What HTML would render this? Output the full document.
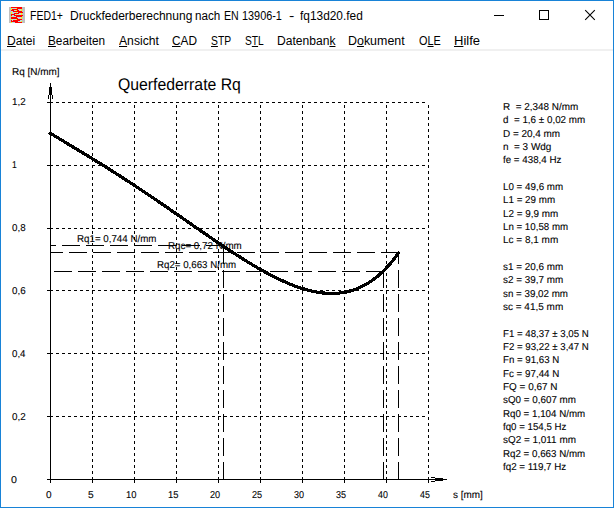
<!DOCTYPE html>
<html><head><meta charset="utf-8"><title>FED1+</title>
<style>
html,body{margin:0;padding:0;background:#fff;overflow:hidden;}
body{width:614px;height:508px;position:relative;overflow:hidden;font-family:"Liberation Sans",sans-serif;color:#000;}
#frame{position:absolute;left:0;top:0;width:612px;height:506px;border:1px solid #1883d7;}
.t{position:absolute;font-size:10px;line-height:11px;white-space:pre;text-rendering:geometricPrecision;-webkit-text-stroke:0.1px #000;}
.tt{position:absolute;top:8px;font-size:12px;line-height:16px;white-space:pre;transform-origin:0 0;}
.m{position:absolute;top:33px;font-size:12px;line-height:16px;white-space:pre;transform-origin:0 0;}
.m u{text-decoration:underline;text-underline-offset:1px;text-decoration-thickness:1px;}
#sep{position:absolute;left:1px;top:49px;width:612px;height:2px;background:#f0f0f0;}
#ttl{position:absolute;left:117.7px;top:76px;font-size:16px;line-height:18px;white-space:pre;text-rendering:geometricPrecision;transform-origin:0 2px;transform:scale(0.987,1.05);}
svg{position:absolute;left:0;top:0;}
</style></head><body>
<div id="frame"></div>
<svg id="icon" width="16" height="16" viewBox="0 0 16 16" style="left:9px;top:7px" shape-rendering="crispEdges">
<rect width="16" height="16" fill="#c0c0c0"/><rect x="2" y="0" width="11" height="1" fill="#ff0000"/><rect x="2" y="1" width="1" height="1" fill="#ffff00"/><rect x="3" y="1" width="4" height="1" fill="#bcd6de"/><rect x="7" y="1" width="1" height="1" fill="#ffff00"/><rect x="8" y="1" width="5" height="1" fill="#ff0000"/><rect x="2" y="2" width="1" height="1" fill="#ffff00"/><rect x="3" y="2" width="6" height="1" fill="#ff0000"/><rect x="9" y="2" width="3" height="1" fill="#bcd6de"/><rect x="12" y="2" width="1" height="1" fill="#ffff00"/><rect x="2" y="3" width="3" height="1" fill="#ff0000"/><rect x="5" y="3" width="2" height="1" fill="#bcd6de"/><rect x="7" y="3" width="1" height="1" fill="#ffff00"/><rect x="8" y="3" width="2" height="1" fill="#ff0000"/><rect x="10" y="3" width="2" height="1" fill="#bcd6de"/><rect x="12" y="3" width="1" height="1" fill="#ffff00"/><rect x="2" y="4" width="2" height="1" fill="#bcd6de"/><rect x="4" y="4" width="9" height="1" fill="#ff0000"/><rect x="2" y="5" width="1" height="1" fill="#ffff00"/><rect x="3" y="5" width="4" height="1" fill="#bcd6de"/><rect x="7" y="5" width="1" height="1" fill="#ffff00"/><rect x="8" y="5" width="1" height="1" fill="#bcd6de"/><rect x="9" y="5" width="5" height="1" fill="#ff0000"/><rect x="2" y="6" width="1" height="1" fill="#ffff00"/><rect x="3" y="6" width="2" height="1" fill="#bcd6de"/><rect x="5" y="6" width="5" height="1" fill="#ff0000"/><rect x="10" y="6" width="2" height="1" fill="#bcd6de"/><rect x="12" y="6" width="1" height="1" fill="#ffff00"/><rect x="2" y="7" width="4" height="1" fill="#ff0000"/><rect x="6" y="7" width="1" height="1" fill="#bcd6de"/><rect x="7" y="7" width="1" height="1" fill="#ffff00"/><rect x="8" y="7" width="4" height="1" fill="#bcd6de"/><rect x="12" y="7" width="1" height="1" fill="#ffff00"/><rect x="2" y="8" width="1" height="1" fill="#ff0000"/><rect x="3" y="8" width="2" height="1" fill="#bcd6de"/><rect x="5" y="8" width="9" height="1" fill="#ff0000"/><rect x="2" y="9" width="1" height="1" fill="#ffff00"/><rect x="3" y="9" width="4" height="1" fill="#bcd6de"/><rect x="7" y="9" width="6" height="1" fill="#ff0000"/><rect x="2" y="10" width="6" height="1" fill="#ff0000"/><rect x="8" y="10" width="4" height="1" fill="#bcd6de"/><rect x="12" y="10" width="1" height="1" fill="#ffff00"/><rect x="2" y="11" width="7" height="1" fill="#ff0000"/><rect x="9" y="11" width="3" height="1" fill="#bcd6de"/><rect x="12" y="11" width="1" height="1" fill="#ffff00"/><rect x="2" y="12" width="1" height="1" fill="#ffff00"/><rect x="3" y="12" width="4" height="1" fill="#bcd6de"/><rect x="7" y="12" width="1" height="1" fill="#ffff00"/><rect x="8" y="12" width="5" height="1" fill="#ff0000"/><rect x="2" y="13" width="1" height="1" fill="#ff0000"/><rect x="3" y="13" width="1" height="1" fill="#bcd6de"/><rect x="4" y="13" width="7" height="1" fill="#ff0000"/><rect x="11" y="13" width="2" height="1" fill="#bcd6de"/><rect x="2" y="14" width="7" height="1" fill="#ff0000"/><rect x="9" y="14" width="3" height="1" fill="#bcd6de"/><rect x="12" y="14" width="1" height="1" fill="#ffff00"/><rect x="2" y="15" width="1" height="1" fill="#ffff00"/><rect x="3" y="15" width="3" height="1" fill="#bcd6de"/><rect x="6" y="15" width="7" height="1" fill="#ff0000"/>
</svg>
<div class="tt" style="left:30.02px;transform:scaleX(0.8753)">FED1+</div>
<div class="tt" style="left:69.80px;transform:scaleX(1.0025)">Druckfederberechnung</div>
<div class="tt" style="left:195.42px;transform:scaleX(0.9713)">nach</div>
<div class="tt" style="left:224.22px;transform:scaleX(0.8844)">EN</div>
<div class="tt" style="left:242.48px;transform:scaleX(0.9061)">13906-1</div>
<div class="tt" style="left:288.73px;transform:scaleX(1.3333)">-</div>
<div class="tt" style="left:300.00px;transform:scaleX(0.9904)">fq13d20.fed</div>
<svg width="614" height="32" shape-rendering="crispEdges">
<rect x="494" y="15" width="10" height="1" fill="#000"/>
<rect x="539.5" y="10.5" width="9" height="9" fill="none" stroke="#000"/>
<g shape-rendering="geometricPrecision"><path d="M585.2 10.2 L594.8 19.8 M594.8 10.2 L585.2 19.8" stroke="#000" stroke-width="1.1" fill="none"/></g>
</svg>
<div class="m" style="left:7.30px;transform:scaleX(1.0038)"><u>D</u>atei</div>
<div class="m" style="left:48.42px;transform:scaleX(0.9822)"><u>B</u>earbeiten</div>
<div class="m" style="left:119.20px;transform:scaleX(1.0128)"><u>A</u>nsicht</div>
<div class="m" style="left:172.41px;transform:scaleX(0.9876)"><u>C</u>AD</div>
<div class="m" style="left:210.98px;transform:scaleX(0.8597)"><u>S</u>TP</div>
<div class="m" style="left:245.09px;transform:scaleX(0.8524)">S<u>T</u>L</div>
<div class="m" style="left:277.49px;transform:scaleX(1.0070)">Datenban<u>k</u></div>
<div class="m" style="left:348.46px;transform:scaleX(1.0354)">D<u>o</u>kument</div>
<div class="m" style="left:418.86px;transform:scaleX(0.9083)">O<u>L</u>E</div>
<div class="m" style="left:453.52px;transform:scaleX(1.0844)"><u>H</u>ilfe</div>
<div id="sep"></div>
<div class="t" style="left:11.90px;top:67px;transform-origin:0 0;transform:scaleX(0.9957)">Rq [N/mm]</div>
<div id="ttl">Querfederrate Rq</div>
<svg width="614" height="508" shape-rendering="crispEdges" fill="none" stroke="#000" stroke-width="1">
<line x1="50.5" y1="83" x2="50.5" y2="483"/>
<line x1="47" y1="479.5" x2="447" y2="479.5"/>
<line x1="49.5" y1="87" x2="49.5" y2="95"/>
<line x1="51.5" y1="87" x2="51.5" y2="95"/>
<line x1="48.5" y1="95" x2="48.5" y2="99"/>
<line x1="52.5" y1="95" x2="52.5" y2="99"/>
<line x1="435" y1="478.5" x2="443" y2="478.5"/>
<line x1="435" y1="480.5" x2="443" y2="480.5"/>
<line x1="431" y1="477.5" x2="435" y2="477.5"/>
<line x1="431" y1="481.5" x2="435" y2="481.5"/>
<line x1="47" y1="102.5" x2="50" y2="102.5"/>
<line x1="50" y1="102.5" x2="428" y2="102.5" stroke-dasharray="3 3" stroke-dashoffset="0"/>
<line x1="47" y1="165.5" x2="50" y2="165.5"/>
<line x1="50" y1="165.5" x2="428" y2="165.5" stroke-dasharray="3 3" stroke-dashoffset="0"/>
<line x1="47" y1="228.5" x2="50" y2="228.5"/>
<line x1="50" y1="228.5" x2="428" y2="228.5" stroke-dasharray="3 3" stroke-dashoffset="0"/>
<line x1="47" y1="290.5" x2="50" y2="290.5"/>
<line x1="50" y1="290.5" x2="428" y2="290.5" stroke-dasharray="3 3" stroke-dashoffset="0"/>
<line x1="47" y1="353.5" x2="50" y2="353.5"/>
<line x1="50" y1="353.5" x2="428" y2="353.5" stroke-dasharray="3 3" stroke-dashoffset="0"/>
<line x1="47" y1="416.5" x2="50" y2="416.5"/>
<line x1="50" y1="416.5" x2="428" y2="416.5" stroke-dasharray="3 3" stroke-dashoffset="0"/>
<line x1="92.5" y1="480" x2="92.5" y2="483"/>
<line x1="92.5" y1="480" x2="92.5" y2="103" stroke-dasharray="3 3"/>
<line x1="134.5" y1="480" x2="134.5" y2="483"/>
<line x1="134.5" y1="480" x2="134.5" y2="103" stroke-dasharray="3 3"/>
<line x1="176.5" y1="480" x2="176.5" y2="483"/>
<line x1="176.5" y1="480" x2="176.5" y2="103" stroke-dasharray="3 3"/>
<line x1="218.5" y1="480" x2="218.5" y2="483"/>
<line x1="218.5" y1="480" x2="218.5" y2="103" stroke-dasharray="3 3"/>
<line x1="260.5" y1="480" x2="260.5" y2="483"/>
<line x1="260.5" y1="480" x2="260.5" y2="103" stroke-dasharray="3 3"/>
<line x1="302.5" y1="480" x2="302.5" y2="483"/>
<line x1="302.5" y1="480" x2="302.5" y2="103" stroke-dasharray="3 3"/>
<line x1="344.5" y1="480" x2="344.5" y2="483"/>
<line x1="344.5" y1="480" x2="344.5" y2="103" stroke-dasharray="3 3"/>
<line x1="386.5" y1="480" x2="386.5" y2="483"/>
<line x1="386.5" y1="480" x2="386.5" y2="103" stroke-dasharray="3 3"/>
<line x1="428.5" y1="480" x2="428.5" y2="483"/>
<line x1="428.5" y1="480" x2="428.5" y2="103" stroke-dasharray="3 3"/>
<line x1="224" y1="245.5" x2="51" y2="245.5" stroke-dasharray="18 6"/>
<line x1="399" y1="252.5" x2="51" y2="252.5" stroke-dasharray="18 6"/>
<line x1="384" y1="271.5" x2="51" y2="271.5" stroke-dasharray="18 6"/>
<line x1="223.5" y1="480" x2="223.5" y2="246" stroke-dasharray="18 6"/>
<line x1="398.5" y1="480" x2="398.5" y2="253" stroke-dasharray="18 6"/>
<line x1="383.5" y1="480" x2="383.5" y2="272" stroke-dasharray="18 6"/>
<path d="M50.0 133.1 L53.0 134.9 L56.0 136.7 L59.0 138.5 L62.0 140.3 L65.0 142.1 L68.0 144.0 L71.0 145.8 L74.0 147.6 L77.0 149.4 L80.0 151.2 L83.0 153.0 L86.0 154.8 L89.0 156.7 L92.0 158.5 L95.0 160.3 L98.0 162.2 L101.0 164.0 L104.0 165.9 L107.0 167.8 L110.0 169.7 L113.0 171.6 L116.0 173.5 L119.0 175.4 L122.0 177.3 L125.0 179.3 L128.0 181.2 L131.0 183.2 L134.0 185.2 L137.0 187.1 L140.0 189.1 L143.0 191.1 L146.0 193.1 L149.0 195.2 L152.0 197.2 L155.0 199.2 L158.0 201.3 L161.0 203.3 L164.0 205.4 L167.0 207.4 L170.0 209.5 L173.0 211.6 L176.0 213.6 L179.0 215.7 L182.0 217.8 L185.0 219.9 L188.0 222.0 L191.0 224.0 L194.0 226.1 L197.0 228.2 L200.0 230.3 L203.0 232.3 L206.0 234.4 L209.0 236.5 L212.0 238.5 L215.0 240.6 L218.0 242.6 L221.0 244.6 L224.0 246.6 L227.0 248.6 L230.0 250.6 L233.0 252.6 L236.0 254.5 L239.0 256.4 L242.0 258.3 L245.0 260.2 L248.0 262.1 L251.0 263.9 L254.0 265.7 L257.0 267.5 L260.0 269.2 L263.0 270.9 L266.0 272.5 L269.0 274.1 L272.0 275.7 L275.0 277.2 L278.0 278.7 L281.0 280.1 L284.0 281.5 L287.0 282.8 L290.0 284.1 L293.0 285.3 L296.0 286.4 L299.0 287.5 L302.0 288.4 L305.0 289.3 L308.0 290.2 L311.0 290.9 L314.0 291.6 L317.0 292.1 L320.0 292.6 L323.0 293.0 L326.0 293.2 L329.0 293.4 L332.0 293.4 L335.0 293.4 L338.0 293.2 L341.0 292.8 L344.0 292.4 L347.0 291.8 L350.0 291.0 L353.0 290.1 L356.0 289.1 L359.0 287.8 L362.0 286.5 L365.0 284.9 L368.0 283.1 L371.0 281.2 L374.0 279.0 L377.0 276.7 L380.0 274.1 L383.0 271.3 L386.0 268.3 L389.0 265.1 L392.0 261.5 L395.0 257.8 L398.0 253.8 L398.6 252.9" stroke-width="3.2" stroke-linejoin="round" stroke-linecap="round" shape-rendering="crispEdges"/>
</svg>
<div class="t" style="left:76.92px;top:234px;transform-origin:0 0;transform:scaleX(0.9750)">Rq1= 0,744 N/mm</div>
<div class="t" style="left:168.42px;top:241px;transform-origin:0 0;transform:scaleX(0.9797)">Rqc= 0,72 N/mm</div>
<div class="t" style="left:157.02px;top:260px;transform-origin:0 0;transform:scaleX(0.9712)">Rq2= 0,663 N/mm</div>
<div class="t" style="left:11.62px;top:97px;transform-origin:0 0;transform:scaleX(0.9762)">1,2</div>
<div class="t" style="left:11.71px;top:160px;transform-origin:0 0;transform:scaleX(0.8605)">1</div>
<div class="t" style="left:11.51px;top:223px;transform-origin:0 0;transform:scaleX(0.9771)">0,8</div>
<div class="t" style="left:11.51px;top:286px;transform-origin:0 0;transform:scaleX(0.9771)">0,6</div>
<div class="t" style="left:11.51px;top:349px;transform-origin:0 0;transform:scaleX(0.9697)">0,4</div>
<div class="t" style="left:11.51px;top:412px;transform-origin:0 0;transform:scaleX(0.9846)">0,2</div>
<div class="t" style="left:11.47px;top:475px;transform-origin:0 0;transform:scaleX(1.0625)">0</div>
<div class="t" style="left:46.00px;top:490px;transform-origin:0 0;transform:scaleX(1.0000)">0</div>
<div class="t" style="left:87.99px;top:490px;transform-origin:0 0;transform:scaleX(1.0213)">5</div>
<div class="t" style="left:125.75px;top:490px;transform-origin:0 0;transform:scaleX(0.9394)">10</div>
<div class="t" style="left:167.75px;top:490px;transform-origin:0 0;transform:scaleX(0.9394)">15</div>
<div class="t" style="left:210.04px;top:490px;transform-origin:0 0;transform:scaleX(0.9118)">20</div>
<div class="t" style="left:252.04px;top:490px;transform-origin:0 0;transform:scaleX(0.9118)">25</div>
<div class="t" style="left:294.14px;top:490px;transform-origin:0 0;transform:scaleX(0.9029)">30</div>
<div class="t" style="left:336.14px;top:490px;transform-origin:0 0;transform:scaleX(0.9029)">35</div>
<div class="t" style="left:378.32px;top:490px;transform-origin:0 0;transform:scaleX(0.8857)">40</div>
<div class="t" style="left:420.32px;top:490px;transform-origin:0 0;transform:scaleX(0.8857)">45</div>
<div class="t" style="left:453.10px;top:490px;transform-origin:0 0;transform:scaleX(0.9931)">s [mm]</div>
<div class="t" style="left:503px;top:102px;transform-origin:0 0;transform:scaleX(0.9920)">R  = 2,348 N/mm</div>
<div class="t" style="left:503px;top:115px;transform-origin:0 0;transform:scaleX(0.9831)">d  = 1,6 ± 0,02 mm</div>
<div class="t" style="left:503px;top:129px;transform-origin:0 0;transform:scaleX(0.9930)">D = 20,4 mm</div>
<div class="t" style="left:503px;top:142px;transform-origin:0 0;transform:scaleX(0.9938)">n  = 3 Wdg</div>
<div class="t" style="left:503px;top:155px;transform-origin:0 0;transform:scaleX(0.9764)">fe = 438,4 Hz</div>
<div class="t" style="left:503px;top:182px;transform-origin:0 0;transform:scaleX(0.9786)">L0 = 49,6 mm</div>
<div class="t" style="left:503px;top:195px;transform-origin:0 0;transform:scaleX(0.9809)">L1 = 29 mm</div>
<div class="t" style="left:503px;top:209px;transform-origin:0 0;transform:scaleX(0.9873)">L2 = 9,9 mm</div>
<div class="t" style="left:503px;top:222px;transform-origin:0 0;transform:scaleX(0.9713)">Ln = 10,58 mm</div>
<div class="t" style="left:503px;top:235px;transform-origin:0 0;transform:scaleX(0.9982)">Lc = 8,1 mm</div>
<div class="t" style="left:503px;top:262px;transform-origin:0 0;transform:scaleX(0.9884)">s1 = 20,6 mm</div>
<div class="t" style="left:503px;top:275px;transform-origin:0 0;transform:scaleX(0.9884)">s2 = 39,7 mm</div>
<div class="t" style="left:503px;top:289px;transform-origin:0 0;transform:scaleX(0.9787)">sn = 39,02 mm</div>
<div class="t" style="left:503px;top:302px;transform-origin:0 0;transform:scaleX(0.9983)">sc = 41,5 mm</div>
<div class="t" style="left:503px;top:329px;transform-origin:0 0;transform:scaleX(0.9681)">F1 = 48,37 ± 3,05 N</div>
<div class="t" style="left:503px;top:342px;transform-origin:0 0;transform:scaleX(0.9681)">F2 = 93,22 ± 3,47 N</div>
<div class="t" style="left:503px;top:355px;transform-origin:0 0;transform:scaleX(0.9686)">Fn = 91,63 N</div>
<div class="t" style="left:503px;top:369px;transform-origin:0 0;transform:scaleX(0.9788)">Fc = 97,44 N</div>
<div class="t" style="left:503px;top:382px;transform-origin:0 0;transform:scaleX(0.9944)">FQ = 0,67 N</div>
<div class="t" style="left:503px;top:395px;transform-origin:0 0;transform:scaleX(0.9837)">sQ0 = 0,607 mm</div>
<div class="t" style="left:503px;top:409px;transform-origin:0 0;transform:scaleX(0.9760)">Rq0 = 1,104 N/mm</div>
<div class="t" style="left:503px;top:422px;transform-origin:0 0;transform:scaleX(0.9691)">fq0 = 154,5 Hz</div>
<div class="t" style="left:503px;top:435px;transform-origin:0 0;transform:scaleX(0.9931)">sQ2 = 1,011 mm</div>
<div class="t" style="left:503px;top:449px;transform-origin:0 0;transform:scaleX(0.9760)">Rq2 = 0,663 N/mm</div>
<div class="t" style="left:503px;top:462px;transform-origin:0 0;transform:scaleX(0.9797)">fq2 = 119,7 Hz</div>
</body></html>
